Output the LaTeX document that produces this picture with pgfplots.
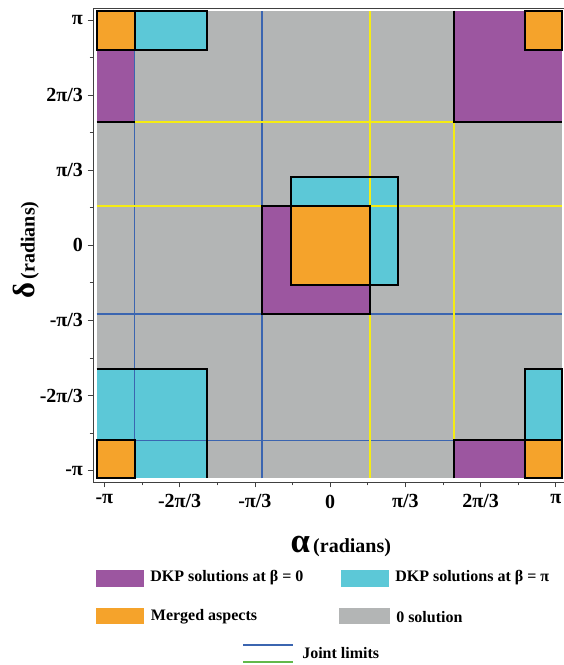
\documentclass[border=0pt]{standalone}
\usepackage{fontspec}
\setmainfont{Liberation Serif}
\usepackage{pgfplots}
\pgfplotsset{compat=1.18}
\definecolor{cpurple}{HTML}{9C56A0}
\definecolor{ccyan}{HTML}{5CC8D7}
\definecolor{corange}{HTML}{F5A32B}
\definecolor{cgray}{HTML}{B3B5B5}
\definecolor{cblue}{HTML}{3B65B0}
\definecolor{cyellow}{HTML}{F5EC14}
\definecolor{cgreen}{HTML}{62B94B}
\begin{document}
\begin{tikzpicture}
\begin{axis}[
  at={(69.75pt,-361.5pt)}, anchor=south west,
  scale only axis, width=354pt, height=355.125pt,
  xmin=-3.3, xmax=3.27, ymin=-3.3, ymax=3.3,
  axis line style={draw=black!75, line width=0.6pt},
  tick align=outside, tick pos=left,
  major tick length=4pt, minor tick length=2.5pt,
  tick style={draw=black!75, line width=0.5pt},
  xtick={-3.14159,-2.0944,-1.0472,0,1.0472,2.0944,3.14159},
  ytick={-3.14159,-2.0944,-1.0472,0,1.0472,2.0944,3.14159},
  minor xtick={-2.618,-1.5708,-0.5236,0.5236,1.5708,2.618},
  minor ytick={-2.618,-1.5708,-0.5236,0.5236,1.5708,2.618},
  xticklabels={-π,-2π/3,-π/3,0,π/3,2π/3,π},
  yticklabels={-π,-2π/3,-π/3,0,π/3,2π/3,π},
  tick label style={font=\fontsize{15}{15}\selectfont\bfseries},
  xticklabel style={yshift=-2pt},
  xlabel={{\fontsize{26}{26}\selectfont α} {\fontsize{15}{15}\selectfont (radians)}},
  ylabel={{\fontsize{23}{23}\selectfont δ} {\fontsize{15}{15}\selectfont (radians)}},
  xlabel style={font=\bfseries, at={(axis description cs:0.525,-0.137)}, anchor=center},
  ylabel style={font=\bfseries, at={(axis description cs:-0.142,0.49)}, anchor=center},
]
% background: 0 solution
\addplot[fill=cgray, draw=none] coordinates {(-3.25,-3.25) (3.23,-3.25) (3.23,3.27) (-3.25,3.27)} -- cycle;
% DKP solutions at beta = 0 (purple)
\addplot[fill=cpurple, draw=none] coordinates {(-0.95,-0.96) (0.55,-0.96) (0.55,0.55) (-0.95,0.55)} -- cycle;
\addplot[fill=cpurple, draw=none] coordinates {(-3.25,1.72) (-2.72,1.72) (-2.72,3.27) (-3.25,3.27)} -- cycle;
\addplot[fill=cpurple, draw=none] coordinates {(1.72,1.72) (3.23,1.72) (3.23,3.27) (1.72,3.27)} -- cycle;
\addplot[fill=cpurple, draw=none] coordinates {(1.72,-3.25) (2.72,-3.25) (2.72,-2.72) (1.72,-2.72)} -- cycle;
% DKP solutions at beta = pi (cyan)
\addplot[fill=ccyan, draw=none] coordinates {(-0.55,-0.56) (0.95,-0.56) (0.95,0.95) (-0.55,0.95)} -- cycle;
\addplot[fill=ccyan, draw=none] coordinates {(-2.72,2.72) (-1.72,2.72) (-1.72,3.27) (-2.72,3.27)} -- cycle;
\addplot[fill=ccyan, draw=none] coordinates {(-3.25,-3.25) (-1.72,-3.25) (-1.72,-1.72) (-3.25,-1.72)} -- cycle;
\addplot[fill=ccyan, draw=none] coordinates {(2.72,-2.72) (3.23,-2.72) (3.23,-1.72) (2.72,-1.72)} -- cycle;
% Merged aspects (orange)
\addplot[fill=corange, draw=none] coordinates {(-0.55,-0.56) (0.55,-0.56) (0.55,0.55) (-0.55,0.55)} -- cycle;
\addplot[fill=corange, draw=none] coordinates {(-3.25,2.72) (-2.72,2.72) (-2.72,3.27) (-3.25,3.27)} -- cycle;
\addplot[fill=corange, draw=none] coordinates {(2.72,2.72) (3.23,2.72) (3.23,3.27) (2.72,3.27)} -- cycle;
\addplot[fill=corange, draw=none] coordinates {(-3.25,-3.25) (-2.72,-3.25) (-2.72,-2.72) (-3.25,-2.72)} -- cycle;
\addplot[fill=corange, draw=none] coordinates {(2.72,-3.25) (3.23,-3.25) (3.23,-2.72) (2.72,-2.72)} -- cycle;
% Joint limits
\addplot[cblue, line width=1.2pt] coordinates {(-0.95,-3.25) (-0.95,3.27)};
\addplot[cblue, line width=1.3pt] coordinates {(-3.25,-0.96) (3.23,-0.96)};
\addplot[cblue, line width=1.2pt] coordinates {(-2.72,-2.72) (-2.72,2.72)};
\addplot[cblue, line width=1.2pt] coordinates {(-3.25,-2.72) (1.72,-2.72)};
\addplot[cyellow, line width=1.4pt] coordinates {(0.55,-3.25) (0.55,3.27)};
\addplot[cyellow, line width=1.4pt] coordinates {(-3.25,0.55) (3.23,0.55)};
\addplot[cyellow, line width=1.4pt] coordinates {(1.72,-2.72) (1.72,1.72)};
\addplot[cyellow, line width=1.4pt] coordinates {(-2.72,1.72) (1.72,1.72)};
% borders
\addplot[black, line width=1.5pt] coordinates {(-0.95,-0.96) (0.55,-0.96) (0.55,0.55) (-0.95,0.55)} -- cycle;
\addplot[black, line width=1.5pt] coordinates {(-3.25,1.72) (-2.72,1.72)};
\addplot[black, line width=1.5pt] coordinates {(1.72,3.27) (1.72,1.72) (3.23,1.72)};
\addplot[black, line width=1.5pt] coordinates {(1.72,-3.25) (1.72,-2.72) (2.72,-2.72) (2.72,-3.25)};
\addplot[black, line width=1.5pt] coordinates {(-0.55,-0.56) (0.95,-0.56) (0.95,0.95) (-0.55,0.95)} -- cycle;
\addplot[black, line width=1.5pt] coordinates {(-2.72,2.72) (-1.72,2.72) (-1.72,3.27) (-2.72,3.27)} -- cycle;
\addplot[black, line width=1.5pt] coordinates {(-3.25,-1.72) (-1.72,-1.72) (-1.72,-3.25)};
\addplot[black, line width=1.5pt] coordinates {(2.72,-2.72) (3.23,-2.72) (3.23,-1.72) (2.72,-1.72)} -- cycle;
\addplot[black, line width=1.5pt] coordinates {(-0.55,-0.56) (0.55,-0.56) (0.55,0.55) (-0.55,0.55)} -- cycle;
\addplot[black, line width=1.5pt] coordinates {(-3.25,2.72) (-2.72,2.72) (-2.72,3.27) (-3.25,3.27)} -- cycle;
\addplot[black, line width=1.5pt] coordinates {(2.72,2.72) (3.23,2.72) (3.23,3.27) (2.72,3.27)} -- cycle;
\addplot[black, line width=1.5pt] coordinates {(-3.25,-3.25) (-2.72,-3.25) (-2.72,-2.72) (-3.25,-2.72)} -- cycle;
\addplot[black, line width=1.5pt] coordinates {(2.72,-3.25) (3.23,-3.25) (3.23,-2.72) (2.72,-2.72)} -- cycle;
\end{axis}
% legend
\begin{scope}[every node/.style={inner sep=0pt, anchor=west, font=\fontsize{12}{12}\selectfont\bfseries}]
\fill[cpurple] (72pt,-427.5pt) rectangle (108pt,-440.25pt);
\node at (112.5pt,-433.5pt) {DKP solutions at β = 0};
\fill[ccyan] (255.75pt,-427.5pt) rectangle (291.75pt,-440.25pt);
\node at (296.25pt,-433.5pt) {DKP solutions at β = π};
\fill[corange] (72pt,-456pt) rectangle (108pt,-468pt);
\node at (113pt,-462.5pt) {Merged aspects};
\fill[cgray] (254.25pt,-456pt) rectangle (292.5pt,-468pt);
\node at (297pt,-462.5pt) {0 solution};
\draw[cblue, line width=1.3pt] (182.25pt,-483.75pt) -- (219.75pt,-483.75pt);
\draw[cgreen, line width=1.3pt] (182.25pt,-496.5pt) -- (219.75pt,-496.5pt);
\node at (226.5pt,-490pt) {Joint limits};
\end{scope}
\pgfresetboundingbox
\path (0pt,0pt) rectangle (423pt,-498.75pt);
\end{tikzpicture}
\end{document}
